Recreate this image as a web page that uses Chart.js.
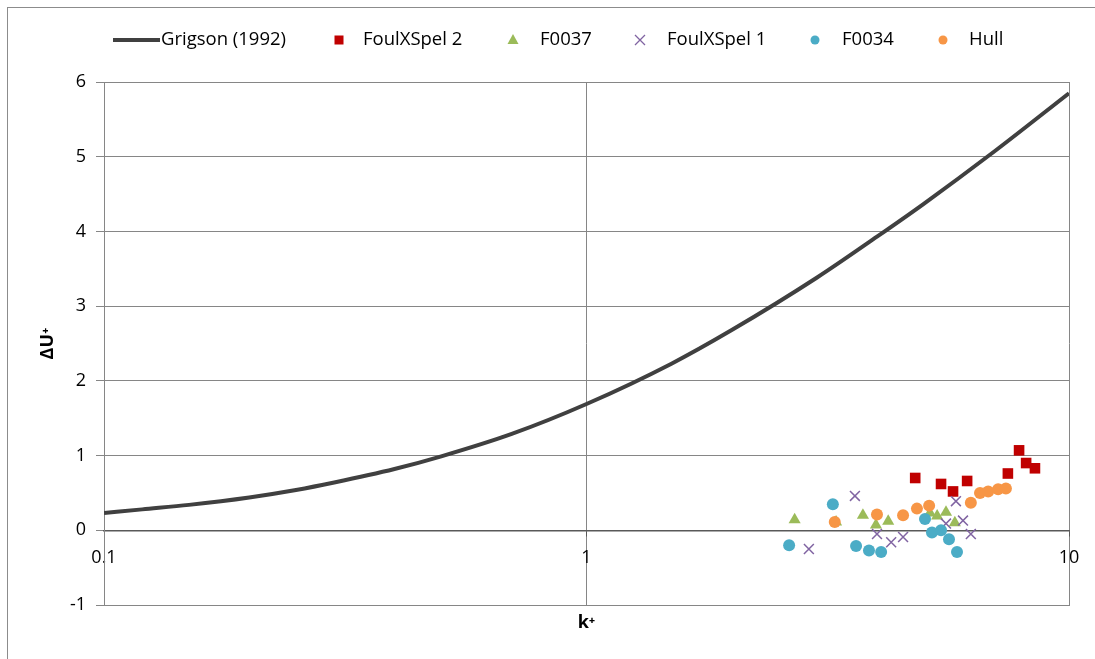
<!DOCTYPE html>
<html>
<head>
<meta charset="utf-8">
<script src="https://cdn.jsdelivr.net/npm/chart.js@4.4.0/dist/chart.umd.min.js"></script>
<style>
  html, body { margin: 0; padding: 0; background: #fff; overflow: hidden; }
  #frame { position: absolute; left: 7px; top: 7px; width: 1200px; height: 800px; border: 1px solid #8c8c8c; }
  #wrap { position: absolute; left: 0; top: 0; width: 1095px; height: 659px; }
</style>
</head>
<body>
<div id="frame"></div>
<div id="wrap"><canvas id="chart" width="1095" height="659"></canvas></div>
<script>
// Grigson (1992) curve
const grigsonK  = [0.1, 0.12, 0.15, 0.2, 0.25, 0.3, 0.4, 0.5, 0.7, 1, 1.5, 2, 3, 4, 5, 7, 10];
const grigsonDU = [0.23, 0.28, 0.34, 0.44, 0.54, 0.64, 0.82, 0.99, 1.29, 1.69, 2.23, 2.68, 3.38, 3.93, 4.37, 5.07, 5.85];

// measured points
const foul2K  = [4.80, 5.43, 5.75, 6.15, 7.47, 7.88, 8.15, 8.50];
const foul2DU = [0.70, 0.62, 0.52, 0.66, 0.76, 1.07, 0.90, 0.83];

const f0037K  = [2.70, 3.29, 3.74, 3.98, 4.22, 5.15, 5.33, 5.56, 5.80];
const f0037DU = [0.14, 0.11, 0.20, 0.07, 0.12, 0.23, 0.19, 0.24, 0.10];

const foul1K  = [2.89, 3.60, 4.00, 4.28, 4.53, 5.56, 5.83, 6.03, 6.26];
const foul1DU = [-0.25, 0.46, -0.05, -0.16, -0.09, 0.09, 0.39, 0.13, -0.05];

const f0034K  = [2.63, 3.24, 3.62, 3.85, 4.08, 5.03, 5.20, 5.43, 5.64, 5.86];
const f0034DU = [-0.20, 0.35, -0.21, -0.27, -0.29, 0.15, -0.03, 0.00, -0.12, -0.29];

const hullK  = [3.27, 4.00, 4.53, 4.84, 5.13, 6.26, 6.54, 6.80, 7.13, 7.40];
const hullDU = [0.11, 0.21, 0.20, 0.29, 0.33, 0.37, 0.50, 0.52, 0.55, 0.56];

const xTicks = [0.1, 1, 10];
const xTickLabels = ["0.1", "1", "10"];
const yMin = -1, yMax = 6;

const FONT = "'Open Sans', Lato, sans-serif";
const GRID = "#868686";

function pts(xs, ys) {
  return xs.map((x, i) => ({ x: x, y: ys[i] }));
}

function setLogTicks(scale) {
  scale.ticks = xTicks.map(v => ({ value: v }));
}

// little marker drawer used by the legend
function drawMarker(ctx, kind, x, y, color) {
  ctx.fillStyle = color;
  ctx.strokeStyle = color;
  ctx.beginPath();
  if (kind === "rect") {
    ctx.fillRect(x - 4.5, y - 4.5, 9, 9);
  } else if (kind === "triangle") {
    ctx.moveTo(x, y - 6);
    ctx.lineTo(x + 5.5, y + 4);
    ctx.lineTo(x - 5.5, y + 4);
    ctx.closePath();
    ctx.fill();
  } else if (kind === "crossRot") {
    ctx.lineWidth = 1.3;
    ctx.moveTo(x - 5, y - 5); ctx.lineTo(x + 5, y + 5);
    ctx.moveTo(x + 5, y - 5); ctx.lineTo(x - 5, y + 5);
    ctx.stroke();
  } else if (kind === "circle") {
    ctx.arc(x, y, 4.5, 0, Math.PI * 2);
    ctx.fill();
  } else if (kind === "line") {
    ctx.lineWidth = 4;
    ctx.moveTo(x - 47, y); ctx.lineTo(x, y);
    ctx.stroke();
  }
}

const excelLegend = {
  id: "excelLegend",
  afterDraw(chart) {
    const ctx = chart.ctx;
    const markX = [160, 339, 513, 640, 815, 943];
    const textX = [161, 363, 540, 667, 842, 969];
    const y = 40;
    ctx.save();
    chart.data.datasets.forEach((ds, i) => {
      drawMarker(ctx, ds.legendStyle, markX[i], y, ds.borderColor);
      ctx.fillStyle = "#000";
      ctx.font = "18.5px " + FONT;
      ctx.textBaseline = "middle";
      ctx.textAlign = "left";
      ctx.fillText(ds.label, textX[i], y);
    });
    ctx.restore();
  }
};

const ctx = document.getElementById("chart").getContext("2d");
const chart = new Chart(ctx, {
  type: "scatter",
  data: {
    datasets: [
      {
        label: "Grigson (1992)",
        data: pts(grigsonK, grigsonDU),
        showLine: true,
        borderColor: "#404040",
        backgroundColor: "#404040",
        borderWidth: 4,
        pointRadius: 0,
        cubicInterpolationMode: "monotone",
        legendStyle: "line",
        order: 6
      },
      {
        label: "FoulXSpel 2",
        data: pts(foul2K, foul2DU),
        pointStyle: "rect",
        pointRadius: 7.5,
        borderColor: "#C00000",
        backgroundColor: "#C00000",
        pointBorderWidth: 0,
        legendStyle: "rect",
        order: 5
      },
      {
        label: "F0037",
        data: pts(f0037K, f0037DU),
        pointStyle: "triangle",
        pointRadius: 7,
        borderColor: "#9BBB59",
        backgroundColor: "#9BBB59",
        pointBorderWidth: 0,
        legendStyle: "triangle",
        order: 4
      },
      {
        label: "FoulXSpel 1",
        data: pts(foul1K, foul1DU),
        pointStyle: "crossRot",
        pointRadius: 7,
        borderColor: "#8064A2",
        backgroundColor: "#8064A2",
        pointBorderWidth: 1.5,
        legendStyle: "crossRot",
        order: 3
      },
      {
        label: "F0034",
        data: pts(f0034K, f0034DU),
        pointStyle: "circle",
        pointRadius: 6,
        borderColor: "#4BACC6",
        backgroundColor: "#4BACC6",
        pointBorderWidth: 0,
        legendStyle: "circle",
        order: 2
      },
      {
        label: "Hull",
        data: pts(hullK, hullDU),
        pointStyle: "circle",
        pointRadius: 6,
        borderColor: "#F79646",
        backgroundColor: "#F79646",
        pointBorderWidth: 0,
        legendStyle: "circle",
        order: 1
      }
    ]
  },
  options: {
    responsive: false,
    animation: false,
    devicePixelRatio: 1,
    layout: { padding: { top: 82, right: 26, left: 0, bottom: 0 } },
    plugins: {
      legend: { display: false },
      tooltip: { enabled: false }
    },
    scales: {
      x: {
        type: "logarithmic",
        min: 0.1,
        max: 10,
        position: "bottom",
        afterBuildTicks: setLogTicks,
        afterFit(s) { s.height = 54; },
        ticks: { display: false },
        grid: { color: GRID, drawTicks: false },
        border: { color: GRID },
        title: {
          display: true,
          text: "k⁺",
          color: "#000",
          font: { family: FONT, size: 18, weight: "bold" },
          padding: { top: 0, bottom: 25 }
        }
      },
      x0: {
        type: "logarithmic",
        min: 0.1,
        max: 10,
        position: { y: 0 },
        afterBuildTicks: setLogTicks,
        ticks: {
          color: "#000",
          font: { family: FONT, size: 18 },
          padding: 12,
          maxRotation: 0,
          callback: (v, i) => xTickLabels[i]
        },
        grid: { drawOnChartArea: false, drawTicks: true, tickLength: 5, color: "#595959" },
        border: { color: "#595959", width: 1.5 }
      },
      y: {
        min: yMin,
        max: yMax,
        afterFit(s) { s.width = 104; },
        ticks: {
          stepSize: 1,
          color: "#000",
          font: { family: FONT, size: 18 },
          padding: 10
        },
        grid: { color: GRID, tickLength: 8 },
        border: { color: GRID },
        title: {
          display: true,
          text: "ΔU⁺",
          color: "#000",
          font: { family: FONT, size: 18, weight: "bold" },
          padding: { top: 37, bottom: 0 }
        }
      }
    }
  },
  plugins: [excelLegend]
});
</script>
</body>
</html>
